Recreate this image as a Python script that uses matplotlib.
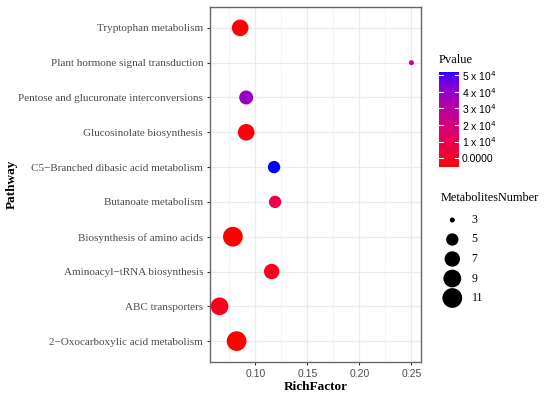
import numpy as np
import matplotlib
matplotlib.use("Agg")
import matplotlib.pyplot as plt
from matplotlib.colors import ListedColormap, Normalize

# ---------------- data (top to bottom as displayed) ----------------
pathways = [
    "Tryptophan metabolism",
    "Plant hormone signal transduction",
    "Pentose and glucuronate interconversions",
    "Glucosinolate biosynthesis",
    "C5\u2212Branched dibasic acid metabolism",
    "Butanoate metabolism",
    "Biosynthesis of amino acids",
    "Aminoacyl\u2212tRNA biosynthesis",
    "ABC transporters",
    "2\u2212Oxocarboxylic acid metabolism",
]
rich_factor = [0.0853, 0.2500, 0.0911, 0.0911, 0.1179, 0.1189, 0.0783, 0.1156, 0.0655, 0.0819]
metabolites_number = [8, 3, 6, 8, 5, 5, 11, 7, 9, 11]
pvalue = [0.05e-4, 2.6e-4, 3.9e-4, 0.1e-4, 5.2e-4, 1.1e-4, 0.02e-4, 0.4e-4, 0.3e-4, 0.01e-4]

x_ticks = [0.10, 0.15, 0.20, 0.25]
x_ticklabels = ["0.10", "0.15", "0.20", "0.25"]
cbar_labels = ["0.0000", "1 x 10$^{4}$", "2 x 10$^{4}$", "3 x 10$^{4}$", "4 x 10$^{4}$", "5 x 10$^{4}$"]
size_legend_values = [3, 5, 7, 9, 11]

# ---------------- colour scale (Lab interpolation red -> blue) ----------------
def srgb_to_lab(rgb):
    rgb = np.asarray(rgb, float)
    lin = np.where(rgb <= 0.04045, rgb / 12.92, ((rgb + 0.055) / 1.055) ** 2.4)
    M = np.array([[0.4124, 0.3576, 0.1805], [0.2126, 0.7152, 0.0722], [0.0193, 0.1192, 0.9505]])
    xyz = M @ lin
    wp = np.array([0.95047, 1.0, 1.08883])
    t = xyz / wp
    f = np.where(t > (6 / 29) ** 3, np.cbrt(t), t / (3 * (6 / 29) ** 2) + 4 / 29)
    return np.array([116 * f[1] - 16, 500 * (f[0] - f[1]), 200 * (f[1] - f[2])])

def lab_to_srgb(lab):
    L, a, b = lab
    fy = (L + 16) / 116
    fx = fy + a / 500
    fz = fy - b / 200
    def finv(f):
        return f ** 3 if f > 6 / 29 else 3 * (6 / 29) ** 2 * (f - 4 / 29)
    wp = np.array([0.95047, 1.0, 1.08883])
    xyz = np.array([finv(fx), finv(fy), finv(fz)]) * wp
    Minv = np.array([[3.2406, -1.5372, -0.4986], [-0.9689, 1.8758, 0.0415], [0.0557, -0.2040, 1.0570]])
    lin = Minv @ xyz
    lin = np.clip(lin, 0, 1)
    rgb = np.where(lin <= 0.0031308, 12.92 * lin, 1.055 * lin ** (1 / 2.4) - 0.055)
    return np.clip(rgb, 0, 1)

lab_lo = srgb_to_lab([1, 0, 0])
lab_hi = srgb_to_lab([0, 0, 1])
cols = [lab_to_srgb(lab_lo + (lab_hi - lab_lo) * t) for t in np.linspace(0, 1, 256)]
cmap = ListedColormap(cols)
norm = Normalize(vmin=0, vmax=max(pvalue))

def size_px(n):
    lo, hi = min(size_legend_values), max(size_legend_values)
    return 5 + 14.7 * np.sqrt((np.asarray(n, float) - lo) / (hi - lo))

def s_pts(n, dpi=100):
    return (size_px(n) * 72 / dpi) ** 2

# ---------------- figure ----------------
W, H = 550, 396
fig = plt.figure(figsize=(W / 100, H / 100), dpi=100)
fig.patch.set_facecolor("white")

def fx(px):
    return px / W

def fy(py):
    return 1 - py / H

L, R, T, B = 210, 421, 7, 362
ax = fig.add_axes([fx(L), fy(B), fx(R) - fx(L), fy(T) - fy(B)])

n = len(pathways)
ypos = np.arange(n, 0, -1)
ax.scatter(rich_factor, ypos, s=s_pts(metabolites_number), c=pvalue, cmap=cmap, norm=norm,
           linewidths=0, zorder=3)

ax.set_xlim(0.0563, 0.2592)
ax.set_ylim(0.4, n + 0.6)
ax.set_xticks(x_ticks)
ax.set_xticklabels(x_ticklabels)
ax.set_xticks([0.075, 0.125, 0.175, 0.225], minor=True)
ax.set_yticks(ypos)
ax.set_yticklabels(pathways)

ax.grid(True, which="major", color="#EBEBEB", linewidth=0.9, zorder=0)
ax.grid(True, which="minor", axis="x", color="#F2F2F2", linewidth=0.5, zorder=0)
ax.set_axisbelow(True)
for sp in ax.spines.values():
    sp.set_color("#666666")
    sp.set_linewidth(1.0)
ax.tick_params(axis="both", which="major", length=2.5, width=0.8, color="#333333", pad=2.5)
ax.tick_params(axis="x", which="minor", length=0)
for lab in ax.get_xticklabels():
    lab.set_fontfamily("Liberation Sans")
    lab.set_fontsize(7.5)
    lab.set_color("#4D4D4D")
for lab in ax.get_yticklabels():
    lab.set_fontfamily("Liberation Serif")
    lab.set_fontsize(8)
    lab.set_color("#4D4D4D")

fig.text(fx(12), fy((T + B) / 2), "Pathway", rotation=90, ha="center", va="center",
         fontfamily="Liberation Serif", fontweight="bold", fontsize=9.5)
fig.text(fx((L + R) / 2), fy(387.5), "RichFactor", ha="center", va="center",
         fontfamily="Liberation Serif", fontweight="bold", fontsize=9.5)

# ---------------- colour bar ----------------
cb_l, cb_r, cb_t, cb_b = 439.3, 459.3, 71.7, 166.7
cax = fig.add_axes([fx(cb_l), fy(cb_b), fx(cb_r) - fx(cb_l), fy(cb_t) - fy(cb_b)])
grad = np.linspace(0, 1, 256).reshape(-1, 1)
cax.imshow(grad, aspect="auto", cmap=cmap, origin="lower", extent=[0, 1, 0, 1])
cax.set_xlim(0, 1)
cax.set_ylim(0, 1)
tick_fr = [0.09 + 0.175 * k for k in range(len(cbar_labels))]
for fr in tick_fr:
    cax.plot([0, 0.2], [fr, fr], color="white", lw=0.8)
    cax.plot([0.8, 1], [fr, fr], color="white", lw=0.8)
cax.set_xticks([])
cax.set_yticks(tick_fr)
cax.set_yticklabels(cbar_labels, fontfamily="Liberation Sans", fontsize=7.5)
cax.yaxis.tick_right()
cax.tick_params(axis="y", length=0, pad=2)
for sp in cax.spines.values():
    sp.set_visible(False)
fig.text(fx(439), fy(60), "Pvalue", ha="left", va="center",
         fontfamily="Liberation Serif", fontsize=9)

# ---------------- size legend ----------------
lax = fig.add_axes([0, 0, 1, 1])
lax.set_xlim(0, W)
lax.set_ylim(H, 0)
lax.axis("off")
lax.text(440.5, 198, "MetabolitesNumber", ha="left", va="center",
         fontfamily="Liberation Serif", fontsize=8.8)
leg_y = [220, 239.5, 259, 278.5, 298]
lax.scatter([452.3] * len(size_legend_values), leg_y, s=s_pts(size_legend_values),
            color="black", linewidths=0)
for v, yy in zip(size_legend_values, leg_y):
    lax.text(471.5, yy, str(v), ha="left", va="center",
             fontfamily="Liberation Serif", fontsize=8.5)

fig.savefig("out.png", dpi=100)
